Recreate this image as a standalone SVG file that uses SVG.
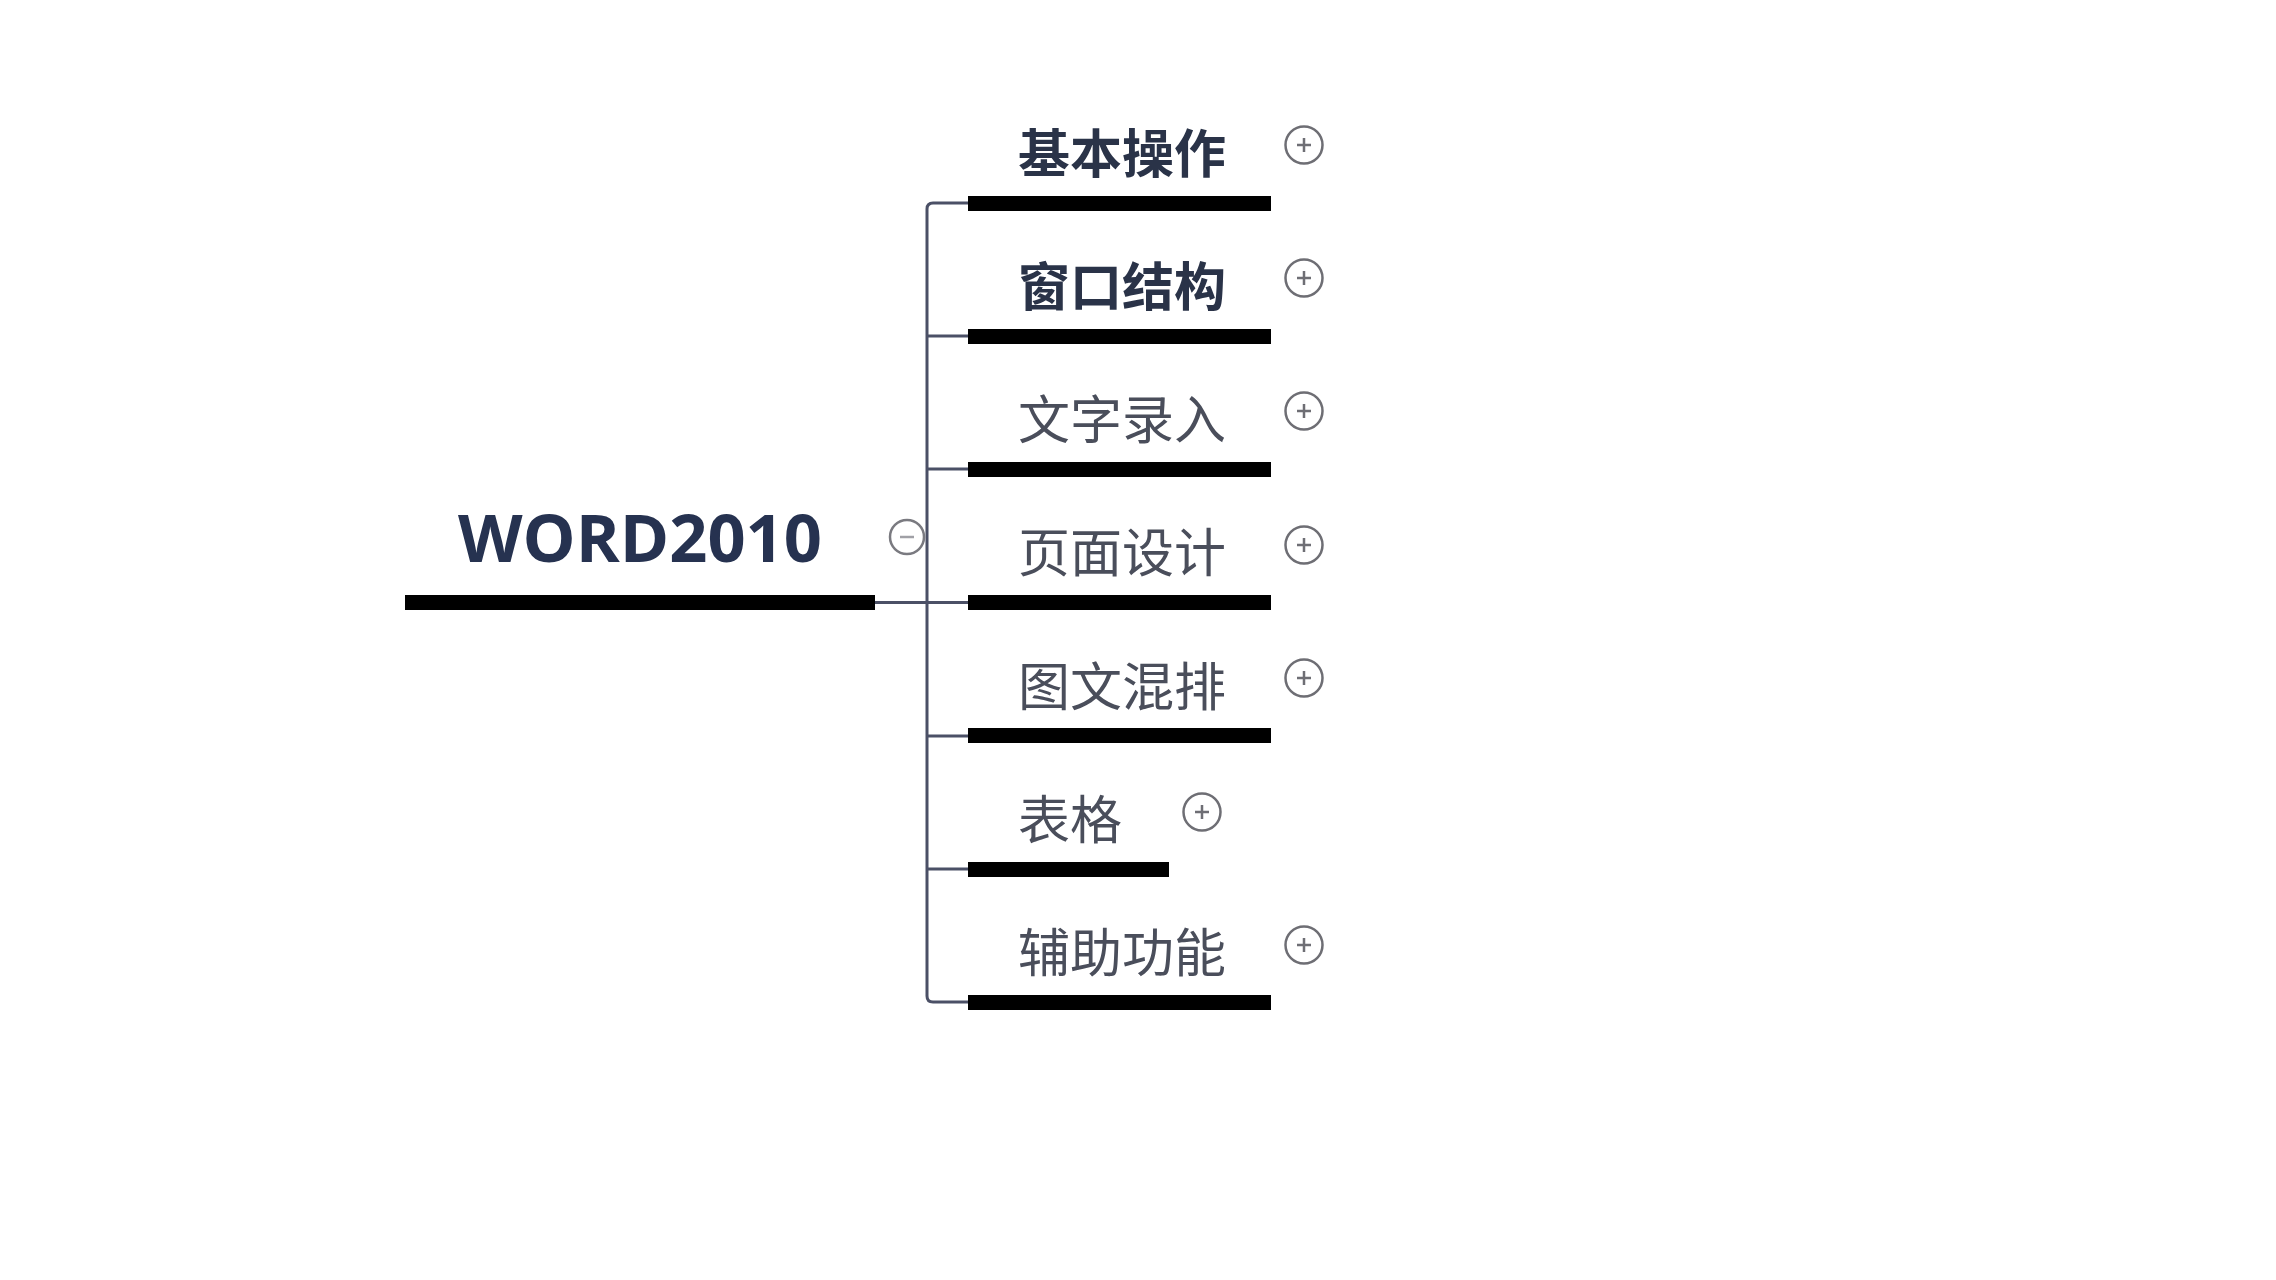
<svg xmlns="http://www.w3.org/2000/svg" width="2276" height="1280" viewBox="0 0 2276 1280">
<style>
.bar{fill:#000}
.conn{fill:none;stroke:#4b5066;stroke-width:3}
.lbl{font-family:"Noto Sans CJK SC","Noto Sans",sans-serif;font-size:52px;fill:#4a4e5b}
.lbl.b{font-weight:bold;fill:#2a3348}
.root{font-family:"Open Sans","Liberation Sans",sans-serif;font-weight:bold;font-size:67px;fill:#263250}
.tog{fill:#fff;stroke:#6e6e74;stroke-width:2.5}
.sign{stroke:#6e6e74;stroke-width:2.5;fill:none}
</style>
<defs>
<g id="plus"><circle class="tog" r="18.5"/><path class="sign" d="M-7,0H7M0,-7V7"/></g>
</defs>
<rect width="2276" height="1280" fill="#fff"/>
<g id="connectors">
<path class="conn" d="M875,602.5H968M968,203H933Q927,203 927,209V996Q927,1002 933,1002H968M927,336H968M927,469H968M927,736H968M927,869H968"/>
</g>
<g id="root">
<text class="root" x="458" y="562" textLength="364" lengthAdjust="spacingAndGlyphs">WORD2010</text>
<rect class="bar" x="405" y="595" width="470" height="15"/>
<circle cx="907" cy="537" r="17" fill="#fff" stroke="#7a7a80" stroke-width="2.5"/>
<path d="M900,537H914" stroke="#a0a0a6" stroke-width="2.5"/>
</g>
<g id="n1">
<text class="lbl b" x="1018" y="173">基本操作</text>
<rect class="bar" x="968" y="196" width="303" height="15"/>
<use href="#plus" x="1304" y="145"/>
</g>
<g id="n2">
<text class="lbl b" x="1018" y="306">窗口结构</text>
<rect class="bar" x="968" y="329" width="303" height="15"/>
<use href="#plus" x="1304" y="278"/>
</g>
<g id="n3">
<text class="lbl" x="1018" y="439">文字录入</text>
<rect class="bar" x="968" y="462" width="303" height="15"/>
<use href="#plus" x="1304" y="411"/>
</g>
<g id="n4">
<text class="lbl" x="1018" y="572">页面设计</text>
<rect class="bar" x="968" y="595" width="303" height="15"/>
<use href="#plus" x="1304" y="545"/>
</g>
<g id="n5">
<text class="lbl" x="1018" y="706">图文混排</text>
<rect class="bar" x="968" y="728" width="303" height="15"/>
<use href="#plus" x="1304" y="678"/>
</g>
<g id="n6">
<text class="lbl" x="1018" y="839">表格</text>
<rect class="bar" x="968" y="862" width="201" height="15"/>
<use href="#plus" x="1202" y="812"/>
</g>
<g id="n7">
<text class="lbl" x="1018" y="972">辅助功能</text>
<rect class="bar" x="968" y="995" width="303" height="15"/>
<use href="#plus" x="1304" y="945"/>
</g>
</svg>
